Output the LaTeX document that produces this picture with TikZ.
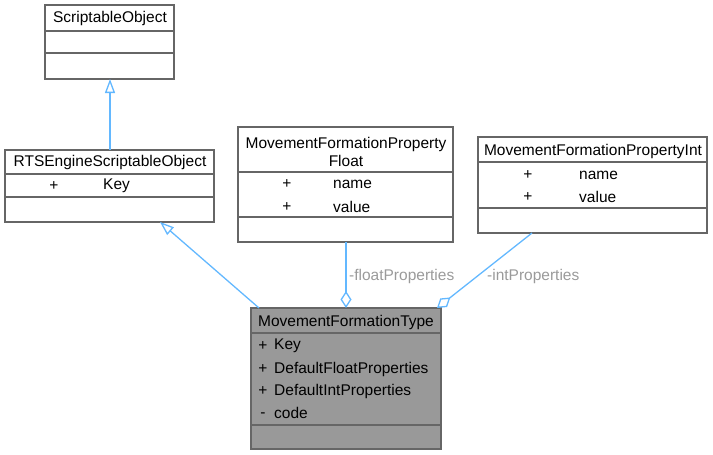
\documentclass[tikz,border=0pt]{standalone}
\usepackage{fontspec}
\setmainfont{Liberation Sans}
\usetikzlibrary{arrows.meta,calc}
\definecolor{bordc}{HTML}{666666}
\definecolor{linkc}{HTML}{63B8FF}
\definecolor{lblc}{HTML}{9A9A9A}
\definecolor{fillc}{HTML}{999999}
\begin{document}
\begin{tikzpicture}[x=1pt,y=-1pt,
  box/.style={draw=bordc, line width=1.2pt, fill=white, anchor=north west, inner sep=0pt, outer sep=0pt},
  txt/.style={font=\fontsize{15.5}{18}\selectfont, inner sep=0pt, text=black},
  txtw/.style={txt, anchor=west},
  sym/.style={txt, text height=11pt, text depth=3pt},
  div/.style={draw=bordc, line width=1.2pt},
  link/.style={draw=linkc, line width=1.3pt},
  lbl/.style={font=\fontsize{15.5}{18}\selectfont, text=lblc, inner sep=0pt, anchor=west},
  inh/.style={link, -{Triangle[length=14pt,width=10pt,fill=white]}},
  agg/.style={link, -{Diamond[length=17pt,width=11pt,fill=white]}}]
\useasboundingbox (0,0) rectangle (713,455);
% ScriptableObject
\node[box, minimum width=129pt, minimum height=74pt] (so) at (45,5) {};
\draw[div] (45,31) -- (174,31);
\draw[div] (45,53) -- (174,53);
\node[txt] (sot) at (110,18) {ScriptableObject};
% RTSEngineScriptableObject
\node[box, minimum width=209pt, minimum height=72pt] (rts) at (5,150) {};
\draw[div] (5,174) -- (214,174);
\draw[div] (5,197) -- (214,197);
\node[txt] (rtst) at (110,162) {RTSEngineScriptableObject};
\node[sym] (rtsp) at (54,186) {+};
\node[txtw] (rtsk) at (103,186) {Key};
% MovementFormationPropertyFloat
\node[box, minimum width=215pt, minimum height=115pt] (mfpf) at (238,127) {};
\draw[div] (238,172) -- (453,172);
\draw[div] (238,217) -- (453,217);
\node[txt, align=center] (mfpft) at (346,152) {MovementFormationProperty\\Float};
\node[sym] (mfpfp1) at (287,184) {+};
\node[txtw] (mfpfn) at (333,184) {name};
\node[sym] (mfpfp2) at (287,207) {+};
\node[txtw] (mfpfv) at (333,207) {value};
% MovementFormationPropertyInt
\node[box, minimum width=229pt, minimum height=96pt] (mfpi) at (478,137) {};
\draw[div] (478,162) -- (707,162);
\draw[div] (478,208) -- (707,208);
\node[txt] (mfpit) at (593,151) {MovementFormationPropertyInt};
\node[sym] (mfpip1) at (528,175) {+};
\node[txtw] (mfpin) at (579,175) {name};
\node[sym] (mfpip2) at (528,197) {+};
\node[txtw] (mfpiv) at (579,197) {value};
% MovementFormationType
\node[box, fill=fillc, minimum width=190pt, minimum height=141pt] (mft) at (251,308) {};
\draw[div] (251,333) -- (441,333);
\draw[div] (251,425) -- (441,425);
\node[txt] (mftt) at (346,322) {MovementFormationType};
\node[sym] (mftp1) at (263,346) {+};
\node[txtw] (mftr1) at (274,346) {Key};
\node[sym] (mftp2) at (263,369) {+};
\node[txtw] (mftr2) at (274,369) {DefaultFloatProperties};
\node[sym] (mftp3) at (263,391) {+};
\node[txtw] (mftr3) at (274,391) {DefaultIntProperties};
\node[sym] (mftp4) at (263,413) {-};
\node[txtw] (mftr4) at (274,413) {code};
% connectors
\draw[inh] ($(rts.north)+(0.5,0)$) -- ($(so.south)+(0.5,0)$);
\draw[inh] ($(mft.north west)+(8,0)$) -- ($(rts.south west)+(155,0)$);
\draw[agg] ($(mfpf.south)+(0.5,0)$) -- ($(mft.north)+(0,0)$);
\draw[agg] ($(mfpi.south west)+(54,0)$) -- ($(mft.north east)+(-4,0)$);
\node[lbl] (lf) at (349,276) {-floatProperties};
\node[lbl] (li) at (487,276) {-intProperties};
\end{tikzpicture}
\end{document}
